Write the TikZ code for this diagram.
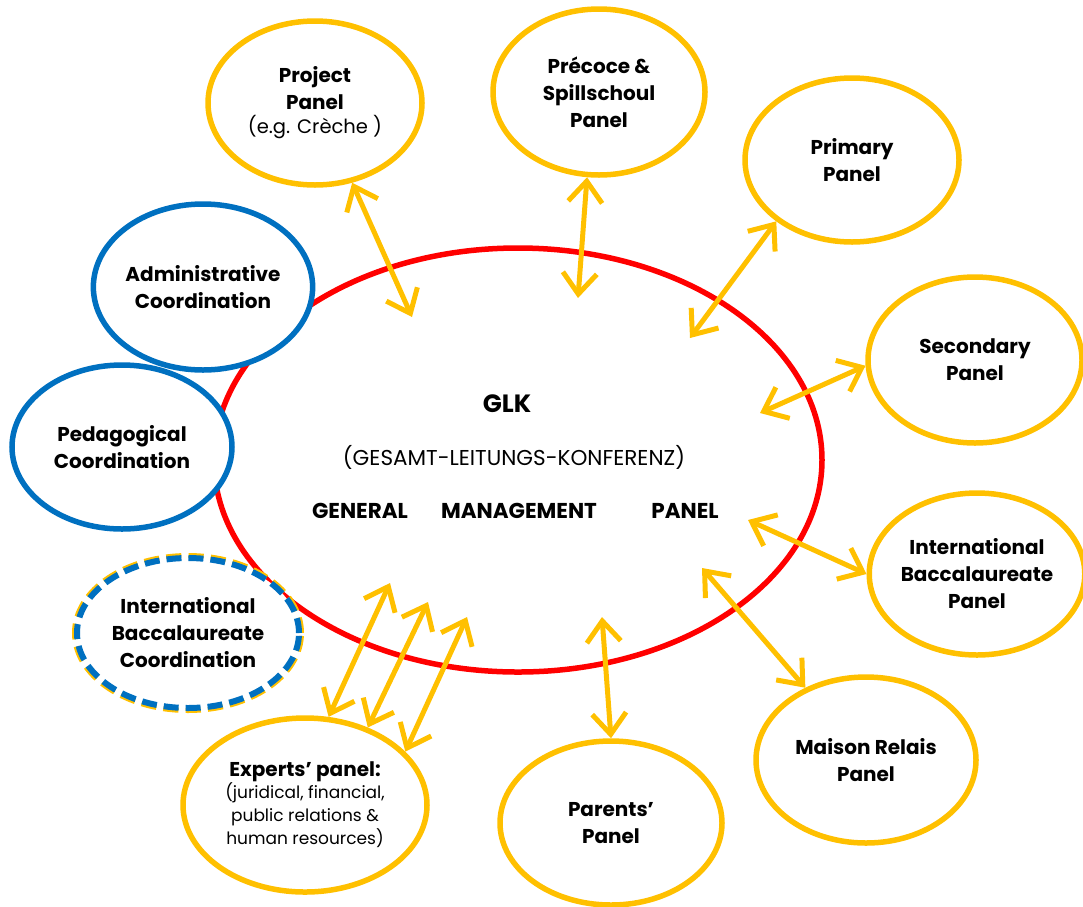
\documentclass[tikz,border=0pt]{standalone}
\usepackage{fontspec}
\setmainfont{Poppins}
\usetikzlibrary{shapes.geometric,arrows.meta}
\definecolor{gold}{HTML}{FFC000}
\definecolor{redc}{HTML}{FF0000}
\definecolor{bluec}{HTML}{0070C0}
\begin{document}
\begin{tikzpicture}[x=1pt,y=-1pt,
  bub/.style={ellipse, fill=white, line width=5.5pt, inner sep=0pt, align=center,
    font=\fontsize{20}{27}\selectfont\bfseries},
  panel/.style={bub, draw=gold},
  coord/.style={bub, draw=bluec},
  biarrow/.style={draw=gold, line width=5pt,
    {Straight Barb[length=21pt,width=34pt,line width=5pt]}-{Straight Barb[length=21pt,width=34pt,line width=5pt]}},
  ctext/.style={font=\fontsize{21.5}{24}\selectfont\bfseries, inner sep=0pt}
]
\useasboundingbox (0,0) rectangle (1083,906);
% central ellipse
\node (glk) [ellipse, draw=redc, line width=5.5pt, minimum width=608, minimum height=424] at (518,460) {};
\node (t1) [ctext, font=\fontsize{25}{28}\selectfont\bfseries] at (507,404) {GLK};
\node (t2) [inner sep=0pt, font=\fontsize{21.5}{24}\selectfont] at (514,457) {(GESAMT-LEITUNGS-KONFERENZ)};
\node (t3) [ctext] at (360,511) {GENERAL};
\node (t4) [ctext] at (519,511) {MANAGEMENT};
\node (t5) [ctext] at (685,511) {PANEL};

% panels
\node (proj) [panel, minimum width=214, minimum height=164] at (315,103) {Project\\Panel\\[-3pt]{\fontsize{19.5}{24}\selectfont\mdseries (e.g. Crèche )}};
\node (prec) [panel, minimum width=212, minimum height=166] at (599,92) {Précoce \&\\Spillschoul\\Panel};
\node (prim) [panel, minimum width=214, minimum height=164] at (852,160) {Primary\\Panel};
\node (sec) [panel, minimum width=214, minimum height=166] at (975,360) {Secondary\\Panel};
\node (ibp) [panel, minimum width=214, minimum height=162] at (977,574) {International\\Baccalaureate\\Panel};
\node (mais) [panel, minimum width=220, minimum height=166] at (866,760) {Maison Relais\\Panel};
\node (par) [panel, minimum width=222, minimum height=164] at (611,823) {Parents’\\Panel};
\node (exp) [panel, minimum width=244, minimum height=174] at (305,805) {Experts’ panel:\\[-5pt]{\fontsize{17}{22}\selectfont\mdseries (juridical, financial,}\\[-4pt]{\fontsize{17}{22}\selectfont\mdseries public relations \&}\\[-4pt]{\fontsize{17}{22}\selectfont\mdseries human resources)}};

% coordinations
\node (adm) [coord, minimum width=214, minimum height=166] at (203,287) {Administrative\\Coordination};
\node (ped) [coord, minimum width=220, minimum height=164] at (122,447) {Pedagogical\\Coordination};
\node (ibc) [bub, draw=bluec, line width=6pt, dash pattern=on 15pt off 7pt,
  preaction={draw=gold, line width=10pt}, minimum width=222, minimum height=150] at (188,633) {International\\Baccalaureate\\Coordination};

% inner ends
\coordinate (i1) at (412,317);
\coordinate (i2) at (578,298);
\coordinate (i3) at (690,338);
\coordinate (i4) at (760,413);
\coordinate (i5) at (748,520);
\coordinate (i6) at (702,568);
\coordinate (i7) at (602,617);
\coordinate (i8) at (390,583);
\coordinate (i9) at (428,602);
\coordinate (i10) at (467,617);

\draw[biarrow] (proj.-65) -- (i1);
\draw[biarrow] (prec.-98) -- (i2);
\draw[biarrow] (prim.219) -- (i3);
\draw[biarrow] (sec.183) -- (i4);
\draw[biarrow] (ibp.180) -- (i5);
\draw[biarrow] (mais.130) -- (i6);
\draw[biarrow] (par.90) -- (i7);
\draw[biarrow] (exp.75) -- (i8);
\draw[biarrow] (exp.51) -- (i9);
\draw[biarrow] (exp.28) -- (i10);
\end{tikzpicture}
\end{document}
